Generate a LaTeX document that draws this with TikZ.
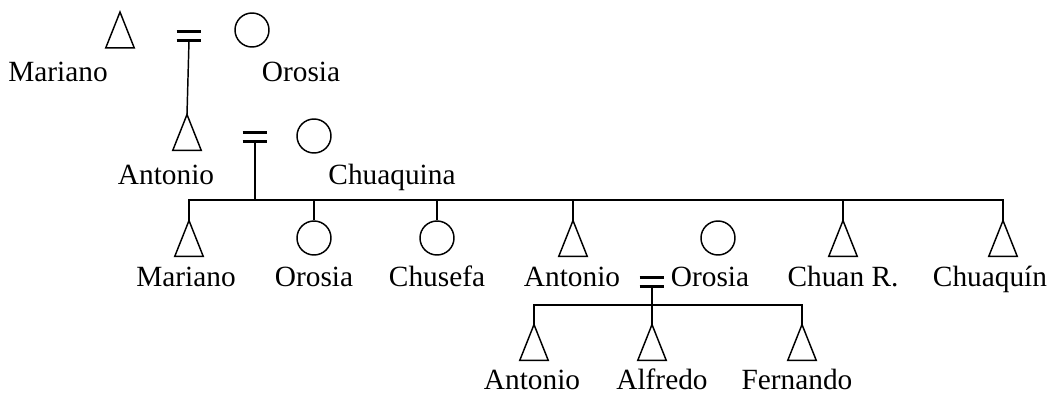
\documentclass[tikz,border=0pt]{standalone}
\usepackage{fontspec}
\setmainfont{Liberation Serif}
\begin{document}
\begin{tikzpicture}[x=0.75pt,y=-0.75pt,
  male/.style={minimum width=21pt,minimum height=26.5pt,inner sep=0pt},
  tri/.style={draw,line width=1.1pt,line join=miter},
  female/.style={circle,draw,line width=1.1pt,minimum size=25.5pt,inner sep=0pt},
  marr/.style={minimum width=18pt,minimum height=6.5pt,inner sep=0pt},
  bar/.style={draw,line width=2.2pt},
  lbl/.style={anchor=base,inner sep=0pt,font=\fontsize{22}{26}\selectfont},
  conn/.style={line width=1.1pt}]
\useasboundingbox (0,0) rectangle (1057,395);
% generation 1
\node[male] (m1) at (120,30) {};
\node[marr] (e1) at (189,36) {};
\node[female] (o1) at (252,30) {};
\node[lbl] (lm1) at (58,82) {Mariano};
\node[lbl] (lo1) at (301,82) {Orosia};
% generation 2
\node[male] (a2) at (187,132.5) {};
\node[marr] (e2) at (255,137) {};
\node[female] (c2) at (314,136) {};
\node[lbl] (la2) at (166,185) {Antonio};
\node[lbl] (lc2) at (392,185) {Chuaquina};
\draw[conn] (e1.south) -- (a2.north);
% generation 3
\coordinate (s3) at (255,200);
\coordinate (s3l) at (189,200);
\coordinate (s3r) at (1003,200);
\node[male] (m3) at (189,238.5) {};
\node[female] (o3) at (314,238) {};
\node[female] (ch3) at (437,238) {};
\node[male] (a3) at (573,238.5) {};
\node[female] (o3b) at (718,238) {};
\node[male] (cr3) at (843,238.5) {};
\node[male] (cq3) at (1003,238.5) {};
\node[marr] (e3) at (652,282) {};
\node[lbl] (lm3) at (186,287) {Mariano};
\node[lbl] (lo3) at (314,287) {Orosia};
\node[lbl] (lch3) at (437,287) {Chusefa};
\node[lbl] (la3) at (572,287) {Antonio};
\node[lbl] (lo3b) at (710,287) {Orosia};
\node[lbl] (lcr3) at (843,287) {Chuan R.};
\node[lbl] (lcq3) at (990,287) {Chuaquín};
\draw[conn] (e2.south) -- (s3);
\draw[conn] (m3.north) |- (s3l) -- (s3r) -- (cq3.north);
\draw[conn] (o3.north) -- (o3.north |- s3);
\draw[conn] (ch3.north) -- (ch3.north |- s3);
\draw[conn] (a3.north) -- (a3.north |- s3);
\draw[conn] (cr3.north) -- (cr3.north |- s3);
% generation 4
\coordinate (s4) at (652,305);
\node[male] (a4) at (534,342.5) {};
\node[male] (al4) at (652,342.5) {};
\node[male] (f4) at (802,342.5) {};
\node[lbl] (la4) at (532,389) {Antonio};
\node[lbl] (lal4) at (662,389) {Alfredo};
\node[lbl] (lf4) at (797,389) {Fernando};
\draw[conn] (e3.south) -- (al4.north);
\draw[conn] (a4.north) |- (s4) -| (f4.north);
% shapes
\foreach \n in {m1,a2,m3,a3,cr3,cq3,a4,al4,f4}
  \draw[tri] (\n.south west) -- (\n.north) -- (\n.south east) -- cycle;
\foreach \n in {e1,e2,e3}
  \draw[bar] (\n.north west) -- (\n.north east) (\n.south west) -- (\n.south east);
\end{tikzpicture}
\end{document}
